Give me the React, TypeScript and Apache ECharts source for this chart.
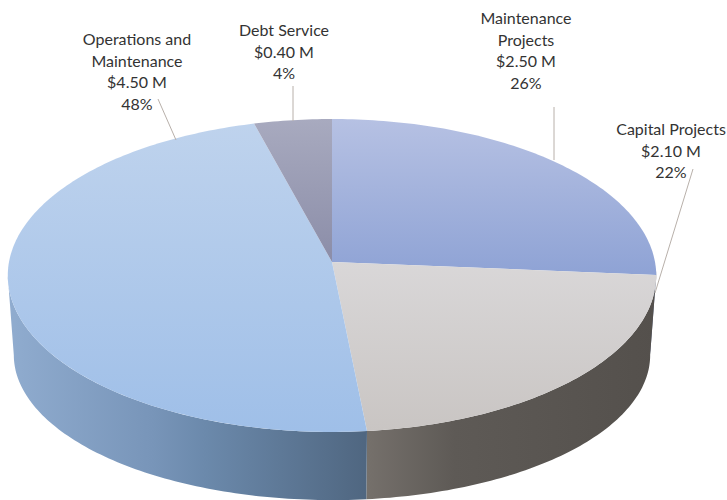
import React, { useEffect, useRef } from "react";
import * as echarts from "echarts";

const categories = ["Maintenance\nProjects", "Capital Projects", "Operations and\nMaintenance", "Debt Service"];
const amounts = [2.5, 2.1, 4.5, 0.4];
const percents = [26, 22, 48, 4];

// Projection of the pie's top and bottom planes
const TOP = { cx: 332, cy: 262, rx: 323, ry: 155.3, k: 0.0862 };
const BOTTOM = { cx: 332, cy: 342.5, rx: 317, ry: 144, k: 0.0862 };
// Part of the rim, in degrees clockwise from the top, that faces the viewer
const FRONT = [92, 265];

const topStops = [
  ["#b6c1e3", "#8fa3d5", 119, 273],
  ["#d9d7d8", "#c9c5c3", 262, 431],
  ["#bfd3ed", "#9fbfe8", 119, 431],
  ["#a8aabf", "#8b8da8", 119, 262],
];
const wallStops = [
  [["#5d6a8c", 0], ["#5d6a8c", 1]],
  [["#75706b", 0], ["#5e5a56", 0.3], ["#54504c", 1]],
  [["#90accf", 0], ["#7895b9", 0.4], ["#6b89ab", 0.55], ["#4f6680", 1]],
  [["#6f7088", 0], ["#6f7088", 1]],
];
const wallRange = [[332, 657], [368, 655], [8, 368], [256, 332]];
const labelLayout = [
  { x: 526, y: 50, line: [554, 107, 554, 160] },
  { x: 671, y: 150, line: [693, 169, 655, 293] },
  { x: 137, y: 71, line: [158, 99, 176, 140] },
  { x: 284, y: 51, line: [293, 86, 293, 121] },
];

const total = amounts.reduce((a, b) => a + b, 0);
const startOf = (i: number) => amounts.slice(0, i).reduce((a, b) => a + b, 0);

function project(p: typeof TOP, deg: number): number[] {
  const t = (deg * Math.PI) / 180;
  const u = Math.sin(t);
  const v = -Math.cos(t);
  const d = 1 - p.k * v;
  return [p.cx + (p.rx * u) / d, p.cy + (p.ry * v) / d];
}

function arc(p: typeof TOP, a0: number, a1: number): number[][] {
  const pts: number[][] = [];
  const n = Math.max(2, Math.ceil(Math.abs(a1 - a0)));
  for (let i = 0; i <= n; i++) pts.push(project(p, a0 + ((a1 - a0) * i) / n));
  return pts;
}

const angles = (i: number, value: number) => {
  const a0 = (startOf(i) / total) * 360;
  return [a0, a0 + (value / total) * 360];
};

export default function App() {
  const ref = useRef<HTMLDivElement>(null);
  useEffect(() => {
    const chart = echarts.init(ref.current!, undefined, { renderer: "svg" });
    const data = amounts.map((v) => [v]);
    chart.setOption({
      animation: false,
      backgroundColor: "#ffffff",
      series: [
        {
          type: "custom",
          name: "walls",
          coordinateSystem: "none",
          silent: true,
          z: 1,
          data,
          renderItem: (params: any, api: any) => {
            const i = params.dataIndex;
            const [s0, s1] = angles(i, api.value(0));
            const a0 = Math.max(s0, FRONT[0]);
            const a1 = Math.min(s1, FRONT[1]);
            if (a1 <= a0) return null;
            const pts = [...arc(TOP, a0, a1), ...arc(BOTTOM, a1, a0)];
            return {
              type: "polygon",
              shape: { points: pts },
              style: {
                fill: {
                  type: "linear",
                  global: true,
                  x: wallRange[i][0],
                  y: 0,
                  x2: wallRange[i][1],
                  y2: 0,
                  colorStops: wallStops[i].map(([color, offset]) => ({ color, offset })),
                },
              },
            };
          },
        },
        {
          type: "custom",
          name: "tops",
          coordinateSystem: "none",
          silent: true,
          z: 2,
          data,
          renderItem: (params: any, api: any) => {
            const i = params.dataIndex;
            const [a0, a1] = angles(i, api.value(0));
            const pts = [[TOP.cx, TOP.cy], ...arc(TOP, a0, a1)];
            const [c0, c1, y0, y1] = topStops[i] as [string, string, number, number];
            return {
              type: "polygon",
              shape: { points: pts },
              style: {
                fill: {
                  type: "linear",
                  global: true,
                  x: 0,
                  y: y0,
                  x2: 0,
                  y2: y1,
                  colorStops: [
                    { offset: 0, color: c0 },
                    { offset: 1, color: c1 },
                  ],
                },
              },
            };
          },
        },
        {
          type: "custom",
          name: "labels",
          coordinateSystem: "none",
          silent: true,
          z: 3,
          data,
          renderItem: (params: any, api: any) => {
            const i = params.dataIndex;
            const l = labelLayout[i];
            const text = `${categories[i]}\n$${api.value(0).toFixed(2)} M\n${percents[i]}%`;
            return {
              type: "group",
              children: [
                {
                  type: "line",
                  shape: { x1: l.line[0], y1: l.line[1], x2: l.line[2], y2: l.line[3] },
                  style: { stroke: "#b8b0aa", lineWidth: 1 },
                },
                {
                  type: "text",
                  x: l.x,
                  y: l.y,
                  style: {
                    text,
                    fill: "#333333",
                    font: "16px Lato",
                    lineHeight: 21.5,
                    align: "center",
                    verticalAlign: "middle",
                  },
                },
              ],
            };
          },
        },
      ],
    });
    return () => chart.dispose();
  }, []);
  return <div ref={ref} style={{ position: "fixed", left: 0, top: 0, width: 727, height: 500 }} />;
}
